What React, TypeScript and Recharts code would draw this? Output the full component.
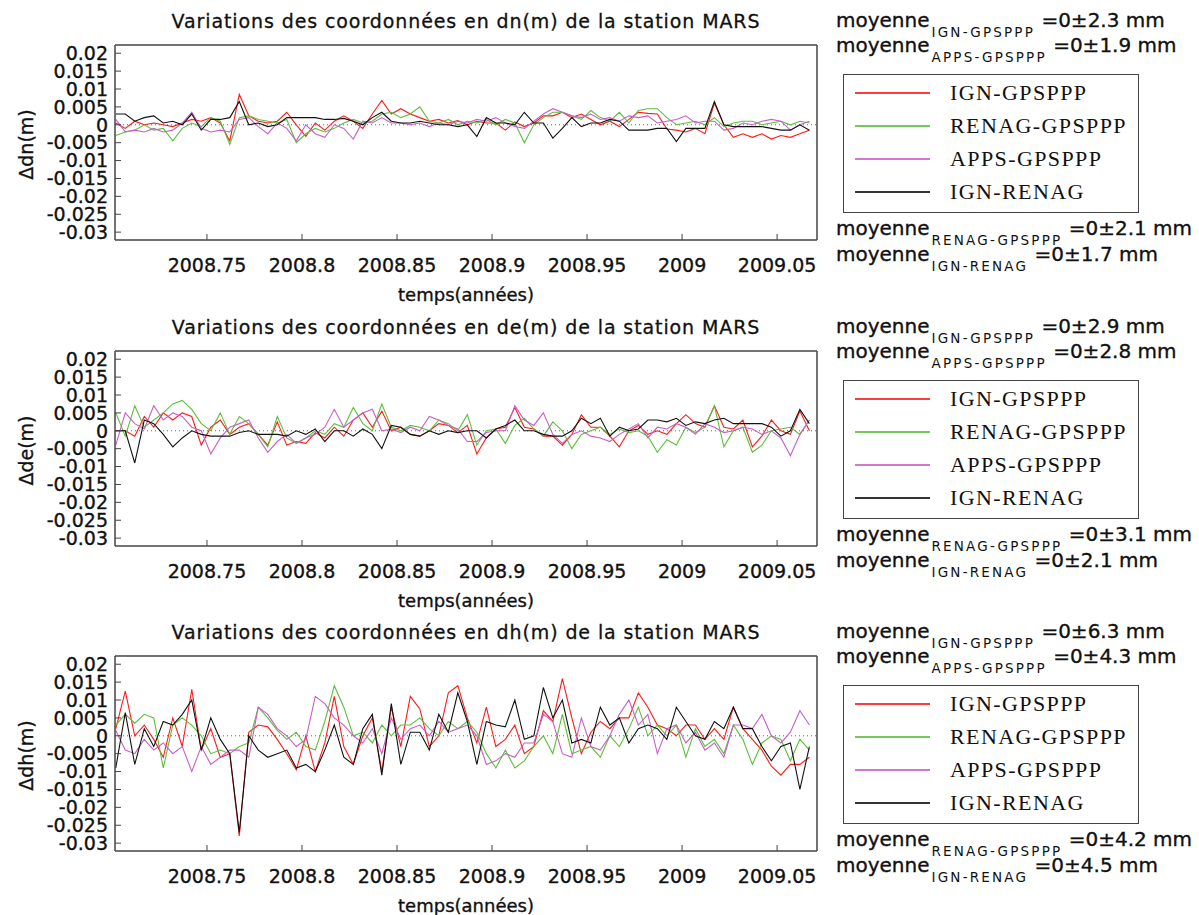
import React from "react";
import { LineChart, Line, XAxis, YAxis, ReferenceLine, Legend } from "recharts";

// epochs (decimal years)
const times = [
  2008.702, 2008.707, 2008.712, 2008.717, 2008.722, 2008.727, 2008.732, 2008.737, 2008.742, 2008.747,
  2008.752, 2008.757, 2008.762, 2008.767, 2008.772, 2008.777, 2008.782, 2008.787, 2008.792, 2008.797,
  2008.802, 2008.807, 2008.812, 2008.817, 2008.822, 2008.827, 2008.832, 2008.837, 2008.842, 2008.847,
  2008.852, 2008.857, 2008.862, 2008.867, 2008.872, 2008.877, 2008.882, 2008.887, 2008.892, 2008.897,
  2008.902, 2008.907, 2008.912, 2008.917, 2008.922, 2008.927, 2008.932, 2008.937, 2008.942, 2008.947,
  2008.952, 2008.957, 2008.962, 2008.967, 2008.972, 2008.977, 2008.982, 2008.987, 2008.992, 2008.997,
  2009.002, 2009.007, 2009.012, 2009.017, 2009.022, 2009.027, 2009.032, 2009.037, 2009.042, 2009.047,
  2009.052, 2009.057, 2009.062, 2009.067,
];

// differences in mm
const dnIgnGps = [
  0.5, -1.0, 1.0, 0.0, 0.5, 0.0, -0.5, 0.5, 1.5, 1.0,
  2.0, 0.5, -4.5, 8.5, 2.5, 1.0, 0.5, 1.0, 3.5, 0.0,
  -3.2, 0.5, -1.5, 1.0, 2.5, 1.0, -1.0, 3.0, 6.8, 3.0,
  4.5, 3.0, 2.0, 1.0, 1.5, 0.5, 1.2, 0.0, 1.0, 0.5,
  0.5, -1.5, 0.8, -0.5, 0.5, 2.5, 2.5, 3.5, 2.0, 3.0,
  1.5, 0.0, 1.0, -0.5, 1.5, 3.5, 3.2, 3.0, -1.2, -1.5,
  -2.0, -1.0, -2.5, 6.0, 0.0, -3.5, -2.5, -3.5, -2.5, -4.0,
  -3.0, -3.5, -2.5, -1.5,
];
const dnRenagGps = [
  -3.0, -2.0, -1.5, 0.0, -1.5, -1.0, -4.5, -1.0, 0.5, -0.5,
  2.0, 1.0, -5.5, 2.0, 2.5, 1.5, 1.0, 0.5, 1.5, -5.0,
  -2.5, -1.0, -2.0, -1.0, 0.5, 1.5, 0.5, 1.0, 3.0, 3.5,
  2.0, 3.0, 5.0, 1.0, 0.5, 1.5, 0.0, 1.0, 0.5, 1.5,
  0.0, 1.5, 0.5, -5.0, 0.0, 2.0, 3.5, 3.5, 2.5, 1.5,
  4.0, 2.0, 1.0, 3.5, 0.5, 4.0, 4.5, 4.5, 2.0, 0.0,
  0.5, 1.0, 0.0, 2.0, -0.5, 0.5, 1.0, 1.0, 0.0, 0.5,
  1.0, 0.0, 1.0, 0.5,
];
const dnAppsGps = [
  1.5, -2.0, -1.5, -2.0, -1.0, -2.0, -1.5, 0.5, 3.5, -1.0,
  -2.0, -1.5, -2.0, 1.5, 2.0, -0.5, -2.5, 0.5, -1.0, -4.5,
  0.0, -2.5, -3.5, 0.0, -1.0, -4.0, 1.0, 0.5, 2.0, 0.5,
  0.5, 0.0, 0.5, -0.5, 0.5, 0.0, 1.0, 0.5, 1.5, 1.0,
  2.0, 0.5, -0.5, -1.0, 1.0, 3.0, 4.5, 3.5, 2.5, 2.0,
  3.0, 1.5, 2.0, 1.0, 2.5, 2.0, 2.5, 0.5, 1.0, 1.5,
  2.5, 0.5, 1.0, 1.0, -1.5, -1.0, 0.5, 0.0, 1.0, 1.5,
  1.0, -1.5, 0.0, 1.0,
];
const dnIgnRenag = [
  3.0, 3.0, 1.0, 2.0, 2.5, 0.5, 1.0, 0.0, 3.0, -1.5,
  1.5, 1.5, 2.0, 6.5, 0.0, 0.5, -0.5, 0.0, 2.0, 2.0,
  2.0, 2.0, 1.5, 1.5, 1.8, 1.0, 0.0, 2.0, 3.5, 1.0,
  0.5, 0.5, 1.0, 0.5, 0.0, 0.0, -0.5, 0.0, -3.3, 2.0,
  0.5, 0.5, 0.0, 3.5, 0.5, 0.5, -3.7, -1.0, 2.0, -0.5,
  0.5, 0.5, 1.5, 1.0, -1.5, -1.5, -1.5, -1.0, -1.0, -4.7,
  -1.0, -1.0, -1.0, 6.5, 0.0, -0.5, -0.5, -0.5, -0.5, -1.0,
  -1.5, -1.5, 0.0, -1.5,
];

const deIgnGps = [
  0, 0, -1.5, 4, 1, 5, 3, 5, 4, -4,
  1, 3, -1, 1, 2, -1, -4, 2.5, -4, -3,
  -3.5, -0.5, -2, 1, -1.5, 3, 5, 1, 5.5, 0,
  1, -1, -1.5, 0, 2, 1.5, -0.5, 1.5, -6.5, -2,
  0.5, 1, 6.5, 1, 0.5, -1.5, -1.5, -4, -1, 4.5,
  1, 1, -1.5, -4.5, 0, 1.5, -1, 0, -1, 2,
  4.5, 2, 1, 7, 1, 0.5, 3, -4.5, -1.5, 3,
  0, -1, 5.5, 0,
];
const deRenagGps = [
  5, -1.5, 7, 1, 3, 5, 7.5, 8.5, 6, 2,
  0, 5, -1, 4, 2, -1, -4.5, 4, -2, -3.5,
  -2, 0, -1, 2, 1, 6.5, 2, 0, 7.5, 1,
  0, 1.5, 1, 0, 3, 2, 0, 4.5, -4, 0,
  0.5, -3.5, 1.5, 3.5, 0.5, -1.5, 2.5, 0, -5, -1,
  0, 1, -1, 0.5, -0.5, 0, -1.5, -6, -2.5, -4,
  1, -0.5, 1, 7, -4.5, 0, 1, -6, -4, 0,
  0.5, 1, -1, 3,
];
const deAppsGps = [
  -4, 5, 2, 0.5, 7, 3, 5, 4, 1, 0,
  -6.5, -2, 1, 2, 3, -2, -6, -3, -1, -3.5,
  -2, -1, 1, 6, 1, 3, 5, 6, 0, 0.5,
  -0.5, 1, 0, 4, 3, 1.5, 0.5, -3, -3, -0.5,
  0, 0, 7, 3, 1.5, 5, -1, -3.5, -1, 0,
  -1.5, -2, -3, -1, 0.5, 2, -2, 1, 0.5, 2,
  1, -1, 2, 1, -0.5, 0, 1, 0.5, -1, 0,
  -2, -7, -1, 3,
];
const deIgnRenag = [
  0, 0, -9, 3, 2, -1, -4.5, -2, 0, -1,
  -1.5, -1.5, -1.5, -0.5, 0, -1, -1, -1, -1.5, 0,
  -1, 0.5, -3, 0, 0, -1.5, 0.5, -1, -5, 1.5,
  1, -1, -1.5, 0, -1, 0, -0.5, 0, 0, -2,
  0.5, 1.5, 3, 0, 0, -1, -1.5, -1.5, 0, 3.5,
  2, 3.5, -1.5, 1, 0, 0.5, 3, 3, 2.5, 3.5,
  1.5, 2.5, 2, 3, 3.5, 2, 2, 2, 2, 1,
  -1.5, 0, 6, 2,
];

const dhIgnGps = [
  2, 12.5, 0, 3, -1, -6, 5, -3, 13, -4,
  2, -6, -5, -28, 1, 3, 2.5, -1, -5, -9.5,
  0, -10, -2, 11, -3, -8, 0, 5, -10, 8,
  -3, 11, 7.5, -3, 0, 12, 14, 5, -2, 8,
  -3, -1, 3, -5, -3, 7, 4, 16, 5, -5,
  1, 4, 2, 5, 5, 12, 8, 3, 2, 0,
  3, 3, -1, 2, -1, 8, 2, -1, -4, -8.5,
  -11, -8, -8, -6,
];
const dhRenagGps = [
  3, 6, 3.5, 6, 5, -9, 3, 5, 3, 0,
  -5, -4, -5, -3, -2, 8, 5, 1.5, -1, 1,
  -3, -4, 4, 14, 8, 0, 1, -2, 3, 0,
  3, 3, 5, 2, 0, 4, 2, 4, 1, -5,
  -9, -4, -9, -7, -3, 0, -5, 6, -5, -4,
  -3, -6, 0, -3, 2, 8, 0, 3, 0, 3,
  -6, 2, -3, -1, -5, 3, -1, -8, -2, 0,
  -1, -7, -1, -4,
];
const dhAppsGps = [
  1.5, -4, -5, -1, -4, -2, -5, -3, -10, -3,
  -8, -6, -4, -4, -6, 8, 6, 2, 0, -3,
  -1, 11, 9, 5, 3, 0, -2, 2, -5, 5,
  -1, 2, 3, 0, 4, 1, 2, 3, 0, -8,
  -7, -5, -6, -2, -2, 6, 4, -5, -6, 5,
  -3, -4, 0, 6, 10, 3, 6, -5, 2, 3,
  -2, 1, -4, -2, -6, 3, 3, 2, 6, 0,
  -2, 1, 7, 3,
];
const dhIgnRenag = [
  -9, 6.5, -8, 2, -3, 4, 3, 6, 10, -4,
  5, -1, -5, -27, 0, -4, -6, -5, -4, -9,
  -8, -10, -4, 3, -6, -8, 2, 6, -11, 9,
  -8, 1, 1, -4, 6, 1, 12, 4, -8, 4,
  3, 2.5, 10, -1, 0, 13.5, 5, 10, -2, -1,
  -2, 8, 3, 5, -2, 2, 3, 2, -1, 8,
  4, 0, -1, 4, 2, 8, 2, 2, -3, -7,
  -3, -2, -15, -3,
];

const seriesNames = ["IGN-GPSPPP", "RENAG-GPSPPP", "APPS-GPSPPP", "IGN-RENAG"];
const seriesColors = ["#ff1a1a", "#5cbf3c", "#c85fc8", "#111111"];
const seriesKeys = ["a", "b", "c", "d"];

// std dev (mm) in the same order as seriesNames
const sigmaDn = [2.3, 2.1, 1.9, 1.7];
const sigmaDe = [2.9, 3.1, 2.8, 2.1];
const sigmaDh = [6.3, 4.2, 4.3, 4.5];

const xTicks = [2008.75, 2008.8, 2008.85, 2008.9, 2008.95, 2009, 2009.05];
const yTicks = [0.02, 0.015, 0.01, 0.005, 0, -0.005, -0.01, -0.015, -0.02, -0.025, -0.03];

const xDomain: [number, number] = [2008.7016, 2009.071];
const yDomain: [number, number] = [-0.0322, 0.0223];

const SANS = "'DejaVu Sans', sans-serif";
const SERIF = "'Liberation Serif', 'Times New Roman', serif";
const FRAME = "#444";
const INK = "#111";

const panels = [
  { comp: "dn", label: "Δdn(m)", series: [dnIgnGps, dnRenagGps, dnAppsGps, dnIgnRenag], sigma: sigmaDn, top: 0 },
  { comp: "de", label: "Δde(m)", series: [deIgnGps, deRenagGps, deAppsGps, deIgnRenag], sigma: sigmaDe, top: 306 },
  { comp: "dh", label: "Δdh(m)", series: [dhIgnGps, dhRenagGps, dhAppsGps, dhIgnRenag], sigma: sigmaDh, top: 611 },
];

function Stat({ name, sigma, baseline }: { name: string; sigma: number; baseline: number }) {
  return (
    <div
      style={{
        position: "absolute",
        left: 0,
        top: baseline - 16.9,
        whiteSpace: "nowrap",
        fontFamily: SANS,
        fontSize: 20,
        lineHeight: "20px",
        color: INK,
        WebkitTextStroke: `0.35px ${INK}`,
      }}
    >
      moyenne
      <span
        style={{
          fontSize: 13.5,
          letterSpacing: 2.2,
          position: "relative",
          top: 10,
          marginLeft: 2,
          lineHeight: 0,
          WebkitTextStroke: "0px",
        }}
      >
        {name}
      </span>
      {" "}=0±{sigma.toFixed(1)} mm
    </div>
  );
}

const makeLegend = (sigma: number[]) => () => (
  <div style={{ position: "relative", width: 363, height: 290 }}>
    <Stat name={seriesNames[0]} sigma={sigma[0]} baseline={27} />
    <Stat name={seriesNames[2]} sigma={sigma[2]} baseline={52} />
    <div
      style={{
        position: "absolute",
        left: 7,
        top: 74,
        width: 296,
        height: 139,
        border: `1px solid ${FRAME}`,
        boxSizing: "border-box",
      }}
    >
      {seriesNames.map((n, k) => (
        <React.Fragment key={n}>
          <div
            style={{
              position: "absolute",
              left: 11,
              top: 17 + 33 * k,
              width: 75,
              height: 2,
              background: seriesColors[k],
              opacity: 0.85,
            }}
          />
          <div
            style={{
              position: "absolute",
              left: 106,
              top: 7 + 33 * k,
              fontFamily: SERIF,
              fontSize: 22,
              lineHeight: "22px",
              letterSpacing: 1.4,
              color: INK,
              whiteSpace: "nowrap",
            }}
          >
            {n}
          </div>
        </React.Fragment>
      ))}
    </div>
    <Stat name={seriesNames[1]} sigma={sigma[1]} baseline={235} />
    <Stat name={seriesNames[3]} sigma={sigma[3]} baseline={261} />
  </div>
);

function Panel({ comp, label, series, sigma }: { comp: string; label: string; series: number[][]; sigma: number[] }) {
  const rows = times.map((t, i) => ({
    t,
    a: series[0][i] / 1000,
    b: series[1][i] / 1000,
    c: series[2][i] / 1000,
    d: series[3][i] / 1000,
  }));
  const title = `Variations des coordonnées en ${comp}(m) de la station MARS`;
  const fmt = (v: number) => String(v);
  const tickStyle = { fontSize: 19, fill: INK, fontFamily: SANS, stroke: INK, strokeWidth: 0.35 };

  return (
    <LineChart width={1199} height={305} data={rows} margin={{ top: 44, right: 381, bottom: 20, left: 15 }}>
      <XAxis
        xAxisId="b"
        dataKey="t"
        type="number"
        domain={xDomain}
        ticks={xTicks}
        interval={0}
        allowDataOverflow
        height={45}
        tickSize={-6}
        tickMargin={25}
        axisLine={{ stroke: FRAME, strokeWidth: 1.5 }}
        tickLine={{ stroke: FRAME }}
        tick={tickStyle}
        tickFormatter={fmt}
        label={(p: any) => {
          const vb = p.viewBox;
          return (
            <text
              x={vb.x + vb.width / 2}
              y={vb.y + 60.5}
              textAnchor="middle"
              fontSize={18}
              fontFamily={SANS}
              fill={INK}
              stroke={INK}
              strokeWidth={0.35}
            >
              temps(années)
            </text>
          );
        }}
      />
      <XAxis
        xAxisId="t"
        orientation="top"
        dataKey="t"
        type="number"
        domain={xDomain}
        ticks={xTicks}
        interval={0}
        allowDataOverflow
        height={1}
        tickSize={-6}
        tick={false}
        axisLine={{ stroke: FRAME, strokeWidth: 1.5 }}
        tickLine={{ stroke: FRAME }}
        label={(p: any) => {
          const vb = p.viewBox;
          return (
            <text
              x={vb.x + vb.width / 2}
              y={vb.y - 16.3}
              textAnchor="middle"
              fontSize={19}
              fontFamily={SANS}
              fill={INK}
              stroke={INK}
              strokeWidth={0.3}
              letterSpacing={0.9}
            >
              {title}
            </text>
          );
        }}
      />
      <YAxis
        yAxisId="l"
        type="number"
        domain={yDomain}
        ticks={yTicks}
        interval={0}
        allowDataOverflow
        width={100}
        tickSize={-6}
        tickMargin={13}
        axisLine={{ stroke: FRAME, strokeWidth: 1.5 }}
        tickLine={{ stroke: FRAME }}
        tick={tickStyle}
        tickFormatter={fmt}
        label={(p: any) => {
          const vb = p.viewBox;
          const x = vb.x + 18;
          const y = vb.y + vb.height / 2 + 2;
          return (
            <text
              x={x}
              y={y}
              transform={`rotate(-90, ${x}, ${y})`}
              textAnchor="middle"
              fontSize={19}
              fontFamily={SANS}
              fill={INK}
              stroke={INK}
              strokeWidth={0.35}
            >
              {label}
            </text>
          );
        }}
      />
      <YAxis
        yAxisId="r"
        orientation="right"
        type="number"
        domain={yDomain}
        ticks={yTicks}
        interval={0}
        allowDataOverflow
        width={1}
        tickSize={-6}
        tick={false}
        axisLine={{ stroke: FRAME, strokeWidth: 1.5 }}
        tickLine={{ stroke: FRAME }}
      />
      <ReferenceLine xAxisId="b" yAxisId="l" y={0} stroke="#666" strokeDasharray="1 3" />
      {seriesNames.map((n, k) => (
        <Line
          key={n}
          xAxisId="b"
          yAxisId="l"
          type="linear"
          dataKey={seriesKeys[k]}
          name={n}
          stroke={seriesColors[k]}
          strokeWidth={1.1}
          dot={false}
          activeDot={false}
          isAnimationActive={false}
        />
      ))}
      <Legend
        layout="horizontal"
        verticalAlign="middle"
        align="center"
        wrapperStyle={{ left: 836, top: 0, width: 363, height: 290 }}
        content={makeLegend(sigma)}
      />
    </LineChart>
  );
}

export default function App() {
  return (
    <div style={{ position: "absolute", left: 0, top: 0, width: 1199, height: 915, background: "#fff" }}>
      {panels.map((p) => (
        <div key={p.comp} style={{ position: "absolute", left: 0, top: p.top }}>
          <Panel comp={p.comp} label={p.label} series={p.series} sigma={p.sigma} />
        </div>
      ))}
    </div>
  );
}
